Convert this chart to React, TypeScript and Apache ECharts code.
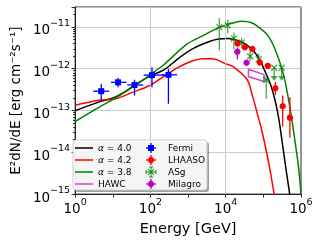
import React, { useEffect, useRef } from 'react';
import * as echarts from 'echarts';

const FONT = 'DejaVu Sans';

// ---- model curves (E in GeV, E^2 dN/dE in erg cm^-2 s^-1) ----
const blackE = [1, 4.38, 12.0, 33.0, 85.2, 234, 536, 1387, 3375, 6486, 1.11e4, 2.69e4, 4.33e4, 7.26e4, 1.07e5, 1.6e5, 2.15e5, 2.62e5, 3.2e5, 3.89e5, 5.02e5, 5.9e5];
const blackF = [9.9e-14, 1.61e-13, 2.12e-13, 3.66e-13, 6.31e-13, 9.51e-13, 1.73e-12, 3.06e-12, 4.37e-12, 5.14e-12, 5.28e-12, 4.32e-12, 3.24e-12, 1.93e-12, 9.25e-13, 3.87e-13, 1.45e-13, 5.74e-14, 1.64e-14, 4.68e-15, 1e-15, 4e-16];

const redE = [1, 4.38, 12.0, 33.0, 95.9, 234, 536, 1230, 2506, 4539, 9817, 1.49e4, 3.62e4, 4.88e4, 7.26e4, 8.84e4, 1.31e5, 1.94e5, 2.28e5];
const redF = [1.33e-13, 1.75e-13, 1.92e-13, 2.71e-13, 3.97e-13, 6.67e-13, 1.06e-12, 1.51e-12, 1.73e-12, 1.73e-12, 1.32e-12, 1.15e-12, 5.66e-13, 2.64e-13, 7.13e-14, 3.71e-14, 7.23e-15, 1e-15, 4e-16];

const greenE = [1, 4.38, 12.0, 33.0, 95.9, 234, 915, 2506, 6761, 1.49e4, 2.69e4, 4.88e4, 7.84e4, 1.26e5, 1.8e5, 2.57e5, 3.46e5, 4.39e5, 5.56e5, 7.05e5, 8.67e5, 1e6];
const greenF = [5.43e-14, 1.2e-13, 2.01e-13, 3.56e-13, 7.04e-13, 1.28e-12, 3.81e-12, 6.22e-12, 9.78e-12, 1.23e-11, 1.37e-11, 1.26e-11, 9.62e-12, 6.58e-12, 3.81e-12, 1.68e-12, 7.04e-13, 2.5e-13, 7.13e-14, 1.64e-14, 4.19e-15, 1.0e-15];

// ---- HAWC butterfly ----
const hawcE = [4.01e4, 1.04e5];
const hawcUpper = [9.75e-13, 7.23e-13];
const hawcLower = [6.49e-13, 4.93e-13];

// ---- Fermi ----
const fermiE = [4.93, 13.8, 37.8, 110, 301];
const fermiELo = [3.01, 8.93, 24.1, 66, 200];
const fermiEHi = [8.08, 23.1, 64.5, 230, 514];
const fermiF = [2.9e-13, 4.73e-13, 4.08e-13, 7.04e-13, 7.15e-13];
const fermiFLo = [1.68e-13, 3.6e-13, 2.28e-13, 3.6e-13, 1.45e-13];
const fermiFHi = [4.31e-13, 5.97e-13, 5.45e-13, 1.09e-12, 9.9e-13];

// ---- LHAASO ----
const lhaasoE = [2.06e4, 3.22e4, 5.12e4, 8.08e4, 1.31e5, 2.09e5, 3.26e5, 5.08e5];
const lhaasoF = [4.03e-12, 3.27e-12, 2.98e-12, 1.41e-12, 1.17e-12, 3.41e-13, 1.26e-13, 6.76e-14];
const lhaasoFLo = [3.6e-12, 2.9e-12, 2.65e-12, 1.24e-12, 1.02e-12, 2.37e-13, 4.07e-14, 2.23e-14];
const lhaasoFHi = [4.5e-12, 3.65e-12, 3.35e-12, 1.6e-12, 1.34e-12, 4.8e-13, 2.28e-13, 2.09e-13];

// ---- ASg (Tibet ASγ) ----
const asgE = [6.76e3, 1.13e4, 1.65e4, 2.65e4, 4.46e4, 7.52e4, 1.19e5, 1.94e5, 3.07e5];
const asgF = [9.9e-12, 1.1e-11, 5.28e-12, 4.25e-12, 1.98e-12, 1.68e-12, 5.36e-13, 1.06e-12, 1.06e-12];
const asgFLo = [2.75e-12, 6.94e-12, 2.9e-12, 3.24e-12, 1.51e-12, 1.21e-12, 1.9e-13, 5.36e-13, 5.36e-13];
const asgFHi = [1.63e-11, 1.49e-11, 7.33e-12, 5.58e-12, 2.9e-12, 2.33e-12, 7.04e-13, 1.06e-12, 1.06e-12];
const asgUL = [0, 0, 0, 0, 0, 0, 0, 1, 1];

// ---- Milagro ----
const milagroE = [2.04e4, 3.58e4];
const milagroF = [2.54e-12, 1.39e-12];
const milagroFLo = [1.68e-12, 1.25e-12];
const milagroFHi = [3.24e-12, 1.55e-12];

const BLUE = '#0000ff';
const RED = '#ff0000';
const GREEN = '#008000';
const ASG = 'rgba(0,128,0,0.7)';
const MAG = '#bf00bf';
const HAWC = '#cc44cc';
const AXC = '#262626';

const rich = {
  b: { fontFamily: FONT, fontSize: 13.5, color: '#000', lineHeight: 19, verticalAlign: 'bottom' },
  s: { fontFamily: FONT, fontSize: 9.5, color: '#000', lineHeight: 11, verticalAlign: 'top' },
};

function powLabel(v: number, every: number) {
  const e = Math.log10(v);
  const r = Math.round(e);
  if (Math.abs(e - r) > 1e-6) return '';
  if (r % every !== 0) return '';
  return `{b|10}{s|${r < 0 ? '\u2212' + -r : r}}`;
}

function zip(...cols: number[][]) {
  return cols[0].map((_, i) => cols.map((c) => c[i]));
}

type Kind = 'fermi' | 'lhaaso' | 'asg' | 'milagro';

function errSeries(name: string, rows: number[][], kind: Kind, color: string) {
  return {
    type: 'custom',
    name,
    data: rows,
    encode: { x: 0, y: 1 },
    z: 10,
    renderItem: (_p: any, api: any) => {
      const E = api.value(0);
      const F = api.value(1);
      const [px, py] = api.coord([E, F]);
      const ls = { stroke: color, lineWidth: 1.3 };
      const children: any[] = [];
      if (kind === 'fermi') {
        const a = api.coord([api.value(2), F]);
        const b = api.coord([api.value(3), F]);
        children.push({ type: 'line', shape: { x1: a[0], y1: py, x2: b[0], y2: py }, style: ls });
        const lo = api.coord([E, api.value(4)]);
        const hi = api.coord([E, api.value(5)]);
        children.push({ type: 'line', shape: { x1: px, y1: lo[1], x2: px, y2: hi[1] }, style: ls });
        children.push({ type: 'rect', shape: { x: px - 3, y: py - 3, width: 6, height: 6 }, style: { fill: color } });
      } else {
        const lo = api.coord([E, api.value(2)]);
        const hi = api.coord([E, api.value(3)]);
        const ul = api.value(4);
        if (kind === 'asg' && ul) {
          children.push({ type: 'line', shape: { x1: px, y1: py, x2: px, y2: lo[1] - 3 }, style: ls });
          children.push({
            type: 'polygon',
            shape: { points: [[px - 3.5, lo[1] - 4], [px + 3.5, lo[1] - 4], [px, lo[1] + 1]] },
            style: { fill: color },
          });
        } else {
          children.push({ type: 'line', shape: { x1: px, y1: lo[1], x2: px, y2: hi[1] }, style: ls });
        }
        if (kind === 'asg') {
          const s = 3;
          children.push({ type: 'line', shape: { x1: px - s, y1: py - s, x2: px + s, y2: py + s }, style: ls });
          children.push({ type: 'line', shape: { x1: px - s, y1: py + s, x2: px + s, y2: py - s }, style: ls });
        } else {
          children.push({ type: 'circle', shape: { cx: px, cy: py, r: 3.2 }, style: { fill: color } });
        }
      }
      return { type: 'group', children };
    },
  };
}

function lineSeries(name: string, E: number[], F: number[], color: string) {
  return {
    type: 'line',
    name,
    data: zip(E, F),
    showSymbol: false,
    symbol: 'none',
    smooth: 0.35,
    lineStyle: { color, width: 1.5 },
    z: 3,
  };
}

function legendGraphics() {
  const rows = [148, 160, 172, 184];
  const els: any[] = [];
  els.push({ type: 'rect', shape: { x: 75, y: 142, width: 134, height: 50, r: 3 }, style: { fill: 'rgba(80,80,80,0.55)' }, z: 100 });
  els.push({ type: 'rect', shape: { x: 73, y: 140, width: 134, height: 50, r: 3 }, style: { fill: 'rgba(255,255,255,0.9)', stroke: '#cccccc', lineWidth: 1 }, z: 101 });
  const lineItems = [
    { c: '#000000', t: '{i|\u03b1} = 4.0' },
    { c: RED, t: '{i|\u03b1} = 4.2' },
    { c: GREEN, t: '{i|\u03b1} = 3.8' },
    { c: HAWC, t: 'HAWC' },
  ];
  lineItems.forEach((it, i) => {
    const y = rows[i];
    els.push({ type: 'line', shape: { x1: 75, y1: y, x2: 93, y2: y }, style: { stroke: it.c, lineWidth: 1.5 }, z: 102 });
    els.push({
      type: 'text', x: 98, y, z: 102,
      style: {
        text: it.t, fontFamily: FONT, fontSize: 9, fill: '#000', verticalAlign: 'middle', align: 'left',
        rich: { i: { fontFamily: FONT, fontSize: 9, fontStyle: 'italic', fill: '#000' } },
      },
    });
  });
  const mx = 151;
  const markerItems = [
    { c: BLUE, t: 'Fermi', k: 'fermi' },
    { c: RED, t: 'LHAASO', k: 'circle' },
    { c: ASG, t: 'ASg', k: 'asg' },
    { c: MAG, t: 'Milagro', k: 'circle' },
  ];
  markerItems.forEach((it, i) => {
    const y = rows[i];
    const ls = { stroke: it.c, lineWidth: 1.3 };
    els.push({ type: 'line', shape: { x1: mx - 5, y1: y, x2: mx + 5, y2: y }, style: ls, z: 102 });
    els.push({ type: 'line', shape: { x1: mx, y1: y - 5, x2: mx, y2: y + 5 }, style: ls, z: 102 });
    if (it.k === 'fermi') {
      els.push({ type: 'rect', shape: { x: mx - 3, y: y - 3, width: 6, height: 6 }, style: { fill: it.c }, z: 103 });
    } else if (it.k === 'asg') {
      els.push({ type: 'line', shape: { x1: mx - 5, y1: y - 2, x2: mx - 5, y2: y + 2 }, style: ls, z: 102 });
      els.push({ type: 'line', shape: { x1: mx + 5, y1: y - 2, x2: mx + 5, y2: y + 2 }, style: ls, z: 102 });
      els.push({ type: 'line', shape: { x1: mx - 2, y1: y - 5, x2: mx + 2, y2: y - 5 }, style: ls, z: 102 });
      els.push({ type: 'line', shape: { x1: mx - 2, y1: y + 5, x2: mx + 2, y2: y + 5 }, style: ls, z: 102 });
      els.push({ type: 'line', shape: { x1: mx - 3, y1: y - 3, x2: mx + 3, y2: y + 3 }, style: ls, z: 103 });
      els.push({ type: 'line', shape: { x1: mx - 3, y1: y + 3, x2: mx + 3, y2: y - 3 }, style: ls, z: 103 });
    } else {
      els.push({ type: 'circle', shape: { cx: mx, cy: y, r: 3.2 }, style: { fill: it.c }, z: 103 });
    }
    els.push({
      type: 'text', x: 168, y, z: 102,
      style: { text: it.t, fontFamily: FONT, fontSize: 9, fill: '#000', verticalAlign: 'middle', align: 'left' },
    });
  });
  return els;
}

export default function App() {
  const ref = useRef<HTMLDivElement>(null);
  useEffect(() => {
    if (!ref.current) return;
    const chart = echarts.init(ref.current, null, { renderer: 'svg' });
    const hawcPoly = [
      [hawcE[0], hawcUpper[0]],
      [hawcE[1], hawcUpper[1]],
      [hawcE[1], hawcLower[1]],
      [hawcE[0], hawcLower[0]],
      [hawcE[0], hawcUpper[0]],
    ];
    const option: any = {
      animation: false,
      textStyle: { fontFamily: FONT },
      grid: { left: 68, right: 19, top: 7, bottom: 44, show: true, borderColor: AXC, borderWidth: 1, backgroundColor: 'transparent' },
      xAxis: {
        type: 'log', logBase: 10, min: 1, max: 1e6,
        name: 'Energy [GeV]', nameLocation: 'middle', nameGap: 20,
        nameTextStyle: { fontFamily: FONT, fontSize: 14.5, color: '#000' },
        axisLine: { show: true, lineStyle: { color: AXC, width: 1 } },
        axisTick: { show: true, inside: false, length: 3.5, lineStyle: { color: AXC } },
        axisLabel: { formatter: (v: number) => powLabel(v, 2), margin: 2, rich, showMaxLabel: true, showMinLabel: true },
        splitLine: { show: false },
      },
      yAxis: {
        type: 'log', logBase: 10, min: 1e-15, max: 3e-11,
        name: 'E\u00b2dN/dE [erg cm\u207b\u00b2s\u207b\u00b9]', nameLocation: 'middle', nameGap: 46,
        nameTextStyle: { fontFamily: FONT, fontSize: 13.5, color: '#000' },
        axisLine: { show: true, lineStyle: { color: AXC, width: 1 } },
        axisTick: { show: true, inside: false, length: 3.5, lineStyle: { color: AXC } },
        minorTick: { show: true, splitNumber: 9, length: 2, lineStyle: { color: AXC } },
        axisLabel: { formatter: (v: number) => powLabel(v, 1), margin: 5, rich },
        splitLine: { show: true, lineStyle: { color: '#c4c4c4', width: 0.9 } },
      },
      graphic: legendGraphics(),
      series: [
        {
          type: 'line', name: 'grid', data: [], silent: true,
          markLine: {
            silent: true, symbol: 'none', label: { show: false },
            lineStyle: { color: '#c4c4c4', width: 0.9, type: 'solid' },
            data: [{ xAxis: 100 }, { xAxis: 10000 }],
          },
          z: 1,
        },
        lineSeries('\u03b1 = 4.0', blackE, blackF, '#000000'),
        lineSeries('\u03b1 = 4.2', redE, redF, RED),
        lineSeries('\u03b1 = 3.8', greenE, greenF, GREEN),
        {
          type: 'line', name: 'HAWC', data: hawcPoly, showSymbol: false, symbol: 'none',
          lineStyle: { color: HAWC, width: 1.5 }, z: 4,
        },
        errSeries('Fermi', zip(fermiE, fermiF, fermiELo, fermiEHi, fermiFLo, fermiFHi), 'fermi', BLUE),
        errSeries('ASg', zip(asgE, asgF, asgFLo, asgFHi, asgUL), 'asg', ASG),
        errSeries('LHAASO', zip(lhaasoE, lhaasoF, lhaasoFLo, lhaasoFHi, lhaasoE.map(() => 0)), 'lhaaso', RED),
        errSeries('Milagro', zip(milagroE, milagroF, milagroFLo, milagroFHi, milagroE.map(() => 0)), 'milagro', MAG),
      ],
    };
    chart.setOption(option);
    return () => chart.dispose();
  }, []);
  return <div ref={ref} style={{ position: 'fixed', left: 0, top: 0, width: 320, height: 240 }} />;
}
